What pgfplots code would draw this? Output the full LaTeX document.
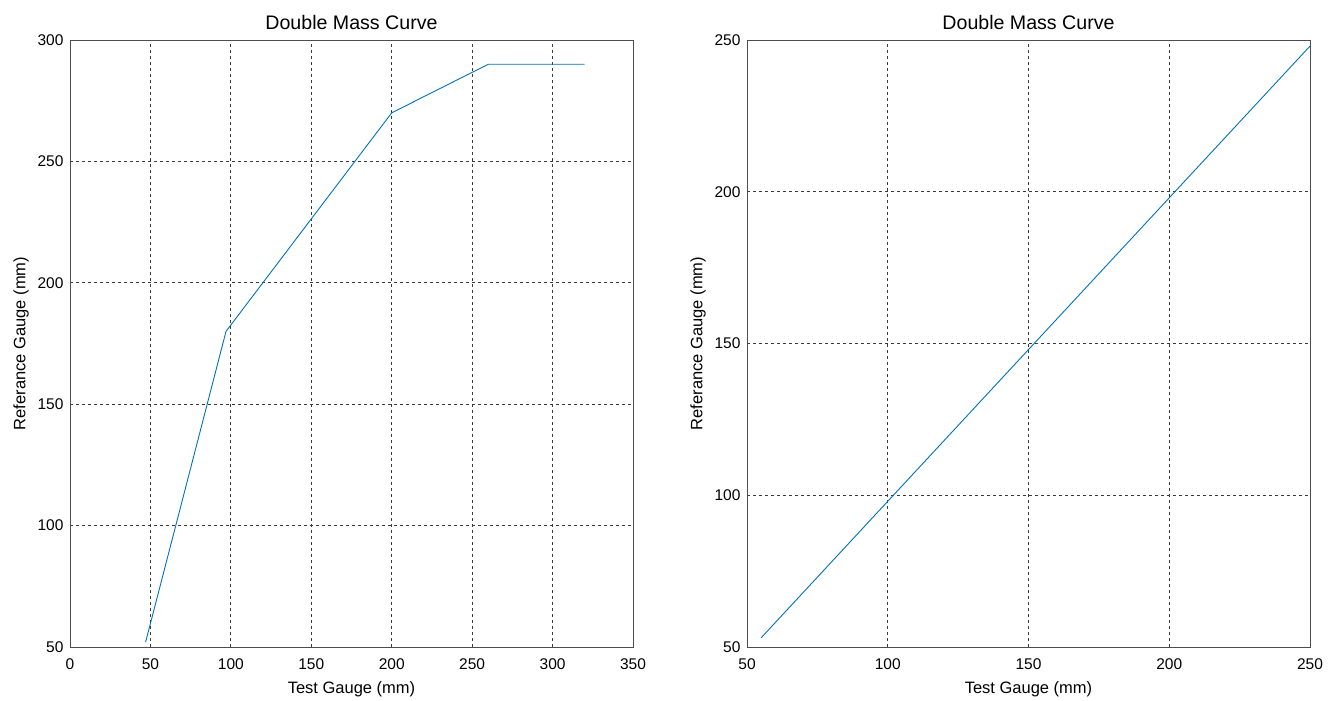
\documentclass[border=0pt]{standalone}
\usepackage{pgfplots}
\pgfplotsset{compat=1.18}
\usepackage{fontspec}
\setmainfont{Liberation Sans}
\definecolor{mblue}{HTML}{0072BD}
\definecolor{gridc}{HTML}{3A3A3A}
\definecolor{framec}{HTML}{4D4D4D}
\pgfplotsset{
  dmc/.style={
    scale only axis,
    width=563pt, height=607pt,
    anchor=south west,
    axis line style={framec, line width=0.9pt},
    grid=major,
    major grid style={gridc, dashed, line width=0.8pt, dash pattern=on 3pt off 3pt},
    major tick length=0pt,
    /pgf/number format/assume math mode=true,
    tick label style={font=\fontsize{15.5}{18}\selectfont},
    label style={font=\fontsize{16.5}{20}\selectfont},
    title style={font=\fontsize{19.6}{23}\selectfont, yshift=1pt},
    title={Double Mass Curve},
    xlabel={Test Gauge (mm)},
    ylabel={Referance Gauge (mm)},
    xticklabel style={yshift=-8pt},
    yticklabel style={xshift=-3pt},
    xlabel style={yshift=-5pt},
    ylabel style={yshift=2pt},
  }
}
\begin{document}
\begin{tikzpicture}
\useasboundingbox (0pt,0pt) rectangle (1339pt,701pt);
\begin{axis}[dmc, at={(70pt,54pt)},
  xmin=0, xmax=350, ymin=50, ymax=300,
  xtick={0,50,...,350}, ytick={50,100,...,300}]
\addplot[mblue, line width=0.9pt] coordinates {
(47,52) (97,180) (200,270) (260,290) (320,290)};
\end{axis}
\begin{axis}[dmc, at={(747pt,54pt)},
  xmin=50, xmax=250, ymin=50, ymax=250,
  xtick={50,100,...,250}, ytick={50,100,...,250}]
\addplot[mblue, line width=0.9pt] coordinates {
(55,53) (250,248)};
\end{axis}
\end{tikzpicture}
\end{document}
